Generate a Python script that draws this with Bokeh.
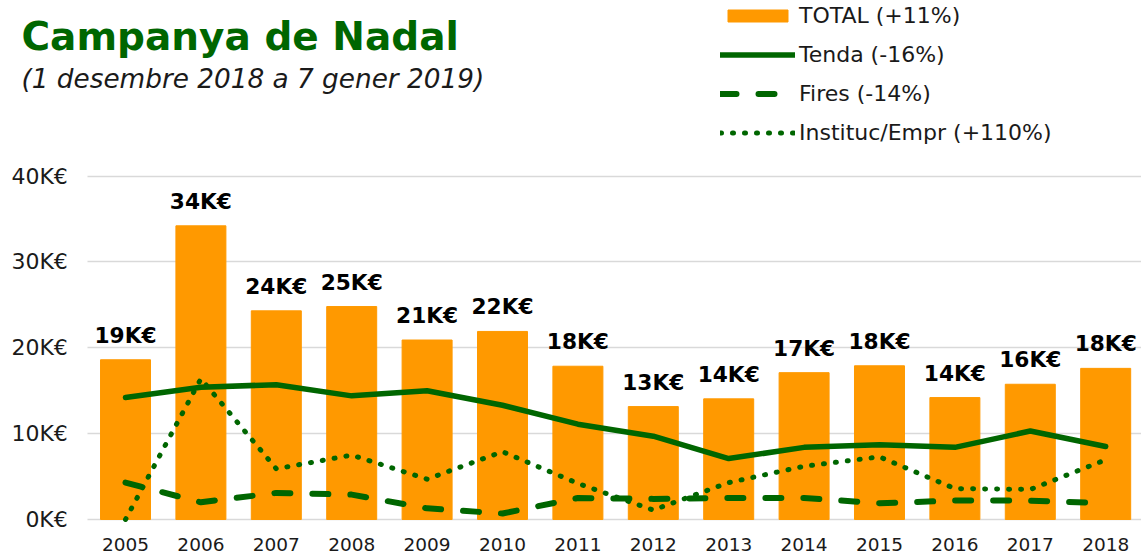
from bokeh.plotting import figure
from bokeh.models import (ColumnDataSource, Range1d, FixedTicker, Label, LabelSet,
                          Legend, LegendItem)
from bokeh.embed import file_html
from bokeh.resources import INLINE
from bokeh.core.properties import value

years = ["2005", "2006", "2007", "2008", "2009", "2010", "2011",
         "2012", "2013", "2014", "2015", "2016", "2017", "2018"]
total = [18.6, 34.2, 24.3, 24.8, 20.9, 21.9, 17.85, 13.15, 14.05, 17.1, 17.9, 14.2, 15.75, 17.6]
total_labels = ["19K€", "34K€", "24K€", "25K€", "21K€", "22K€", "18K€",
                "13K€", "14K€", "17K€", "18K€", "14K€", "16K€", "18K€"]
tenda = [14.2, 15.4, 15.7, 14.4, 15.0, 13.3, 11.1, 9.7, 7.1, 8.4, 8.7, 8.4, 10.3, 8.5]
fires = [4.3, 2.0, 3.1, 2.9, 1.3, 0.7, 2.5, 2.4, 2.5, 2.5, 1.9, 2.2, 2.2, 1.9]
instituc = [0.0, 16.4, 5.9, 7.5, 4.7, 7.9, 4.2, 1.1, 4.3, 6.2, 7.3, 3.6, 3.5, 6.95]
y_ticks = [0, 10, 20, 30, 40]
y_tick_labels = ["0K€", "10K€", "20K€", "30K€", "40K€"]
series_names = ["TOTAL (+11%)", "Tenda (-16%)", "Fires (-14%)", "Instituc/Empr (+110%)"]
title_text = "Campanya de Nadal"
subtitle_text = "(1 desembre 2018 a 7 gener 2019)"

ORANGE = "#FF9900"
GREEN = "#006600"
FONT = "DejaVu Sans"
TXT = "#1a1a1a"

idx = list(range(len(years)))
src = ColumnDataSource(dict(x=idx, total=total, lab=total_labels, year=years,
                            tenda=tenda, fires=fires, inst=instituc))
tick_src = ColumnDataSource(dict(tick=y_ticks, lab=y_tick_labels))

# frame covers the whole canvas so that titles and legend are not clipped
p = figure(width=1141, height=556, output_backend="svg", toolbar_location=None,
           x_range=Range1d(-1.658, 13.475), y_range=Range1d(-4.309, 60.44),
           min_border_left=0, min_border_right=0, min_border_top=0,
           min_border_bottom=0)
p.outline_line_color = None
p.background_fill_color = "white"
p.xaxis.visible = False
p.yaxis.visible = False
p.xgrid.grid_line_color = None
p.ygrid.ticker = FixedTicker(ticks=y_ticks)
p.ygrid.grid_line_color = "#d9d9d9"
p.ygrid.grid_line_width = 1.5
p.ygrid.cross_bounds = (-0.5, 13.475)

bars = p.vbar(x="x", top="total", width=0.663, source=src, fill_color=ORANGE,
              line_color=ORANGE)
l_tenda = p.line(x="x", y="tenda", source=src, line_color=GREEN, line_width=5.5,
                 line_join="round", line_cap="round")
l_fires = p.line(x="x", y="fires", source=src, line_color=GREEN, line_width=6,
                 line_dash="16 22", line_cap="round", line_join="round")
l_inst = p.line(x="x", y="inst", source=src, line_color=GREEN, line_width=5,
                line_dash="1 11", line_cap="round", line_join="round")

# value labels above bars
p.add_layout(LabelSet(x="x", y="total", text="lab", source=src, y_offset=17,
                      text_align="center", text_baseline="alphabetic",
                      text_font=value(FONT), text_font_style="bold",
                      text_font_size="21.7px", text_color="black"))
# category (year) labels
p.add_layout(LabelSet(x="x", y=0, text="year", source=src, y_offset=-32,
                      text_align="center", text_baseline="alphabetic",
                      text_font=value(FONT), text_font_size="18.5px",
                      text_color=TXT))
# y tick labels
p.add_layout(LabelSet(x=-0.5, y="tick", text="lab", source=tick_src, x_offset=-20,
                      text_align="right", text_baseline="middle",
                      text_font=value(FONT), text_font_size="22px",
                      text_color=TXT))

# title and subtitle (screen units relative to frame bottom-left)
p.add_layout(Label(x=21, y=520, x_units="screen", y_units="screen", text=title_text,
                   text_font=FONT, text_font_style="bold", text_font_size="39px",
                   text_color=GREEN, text_baseline="alphabetic"))
p.add_layout(Label(x=21, y=478, x_units="screen", y_units="screen", text=subtitle_text,
                   text_font=FONT, text_font_style="italic", text_font_size="26.3px",
                   text_color=TXT, text_baseline="alphabetic"))

legend = Legend(items=[LegendItem(label=series_names[0], renderers=[bars]),
                       LegendItem(label=series_names[1], renderers=[l_tenda]),
                       LegendItem(label=series_names[2], renderers=[l_fires]),
                       LegendItem(label=series_names[3], renderers=[l_inst])],
                location=(720, 411), orientation="vertical",
                glyph_width=75, glyph_height=15, label_standoff=4,
                label_text_font=FONT, label_text_font_size="22px", label_text_color=TXT,
                spacing=14, padding=0, margin=0, border_line_color=None,
                background_fill_alpha=0)
p.add_layout(legend, "center")

open("out.html", "w").write(file_html(p, INLINE))
